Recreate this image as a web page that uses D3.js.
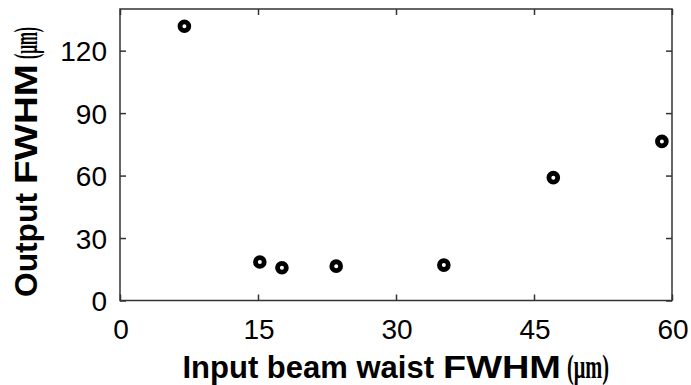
<!DOCTYPE html>
<html>
<head>
<meta charset="utf-8">
<script src="https://cdn.jsdelivr.net/npm/d3@7"></script>
<style>
  body { margin: 0; background: #fff; }
</style>
</head>
<body>
<div id="chart"></div>
<script>
//Data
var inputWaist = [7.0, 15.2, 17.6, 23.5, 35.2, 47.1, 58.9];
var outputFwhm = [131.7, 18.5, 15.7, 16.5, 17.0, 59.0, 76.4];
var xTicks = [0, 15, 30, 45, 60];
var yTicks = [0, 30, 60, 90, 120];

var width = 691, height = 385;
var margin = {top: 9, right: 19, bottom: 84.5, left: 120};
var plotW = width - margin.left - margin.right;
var plotH = height - margin.top - margin.bottom;

var svg = d3.select("#chart")
            .append("svg")
            .attr("width", width)
            .attr("height", height);

var g = svg.append("g")
           .attr("transform", "translate(" + margin.left + "," + margin.top + ")");

var x = d3.scaleLinear().domain([0, 60]).range([0, plotW]);
var y = d3.scaleLinear().domain([0, 140]).range([plotH, 0]);

//Box axes with inward ticks (matlab style)
var tickLen = 6;
var axisColor = "#333";
function styleAxis(sel) {
  sel.select(".domain").remove();
  sel.selectAll(".tick line").attr("stroke", axisColor).attr("stroke-width", 1.5);
}
g.append("g").attr("transform", "translate(0," + plotH + ")")
 .call(d3.axisBottom(x).tickValues(xTicks).tickSize(-tickLen).tickFormat(""))
 .call(styleAxis);
g.append("g")
 .call(d3.axisTop(x).tickValues(xTicks).tickSize(-tickLen).tickFormat(""))
 .call(styleAxis);
g.append("g")
 .call(d3.axisLeft(y).tickValues(yTicks).tickSize(-tickLen).tickFormat(""))
 .call(styleAxis);
g.append("g").attr("transform", "translate(" + plotW + ",0)")
 .call(d3.axisRight(y).tickValues(yTicks).tickSize(-tickLen).tickFormat(""))
 .call(styleAxis);

g.append("rect")
 .attr("width", plotW)
 .attr("height", plotH)
 .attr("fill", "none")
 .attr("stroke", axisColor)
 .attr("stroke-width", 1.5);

//Tick labels
var font = "'Liberation Sans', Arial, sans-serif";
var serif = "'Liberation Serif', 'Times New Roman', serif";
g.selectAll(".xlab")
 .data(xTicks)
 .enter()
 .append("text")
 .attr("x", function(d){ return x(d) + 1; })
 .attr("y", plotH + 38)
 .attr("text-anchor", "middle")
 .attr("font-family", font)
 .attr("font-size", "28px")
 .text(function(d){ return d; });
g.selectAll(".ylab")
 .data(yTicks)
 .enter()
 .append("text")
 .attr("x", -13)
 .attr("y", function(d){ return y(d) + 10.5; })
 .attr("text-anchor", "end")
 .attr("font-family", font)
 .attr("font-size", "28px")
 .text(function(d){ return d; });

//Points
g.selectAll("circle")
 .data(inputWaist)
 .enter()
 .append("circle")
 .attr("cx", function(d){ return x(d); })
 .attr("cy", function(d, i){ return y(outputFwhm[i]); })
 .attr("r", 4.4)
 .attr("fill", "white")
 .attr("stroke", "black")
 .attr("stroke-width", 4.8);

//Axis titles: pieces laid out one after another, each squeezed/stretched
//to the width it has in the picture
function title(parent, pieces) {
  var cursor = 0;
  pieces.forEach(function(p) {
    cursor += p.gap || 0;
    var t = parent.append("text")
                  .attr("font-family", p.family)
                  .attr("font-weight", "bold")
                  .attr("font-size", p.size + "px")
                  .text(p.text);
    var natural = t.node().getComputedTextLength();
    var sx = p.w ? p.w / natural : 1;
    t.attr("transform", "translate(" + cursor + ",0) scale(" + sx + ",1)");
    cursor += natural * sx;
  });
}
var xg = svg.append("g").attr("transform", "translate(182.5,378)");
title(xg, [
  {text: "Input beam waist", family: font, size: 31},
  {text: "FWHM", family: font, size: 31, w: 118, gap: 9},
  {text: "(\u03bcm)", family: serif, size: 34, w: 42, gap: 6}
]);

var yg = svg.append("g").attr("transform", "translate(37,297) rotate(-90)");
title(yg, [
  {text: "Output", family: font, size: 31, w: 104},
  {text: "FWHM", family: font, size: 31, w: 120, gap: 9},
  {text: "(\u03bcm)", family: serif, size: 34, w: 32, gap: 5}
]);
</script>
</body>
</html>
